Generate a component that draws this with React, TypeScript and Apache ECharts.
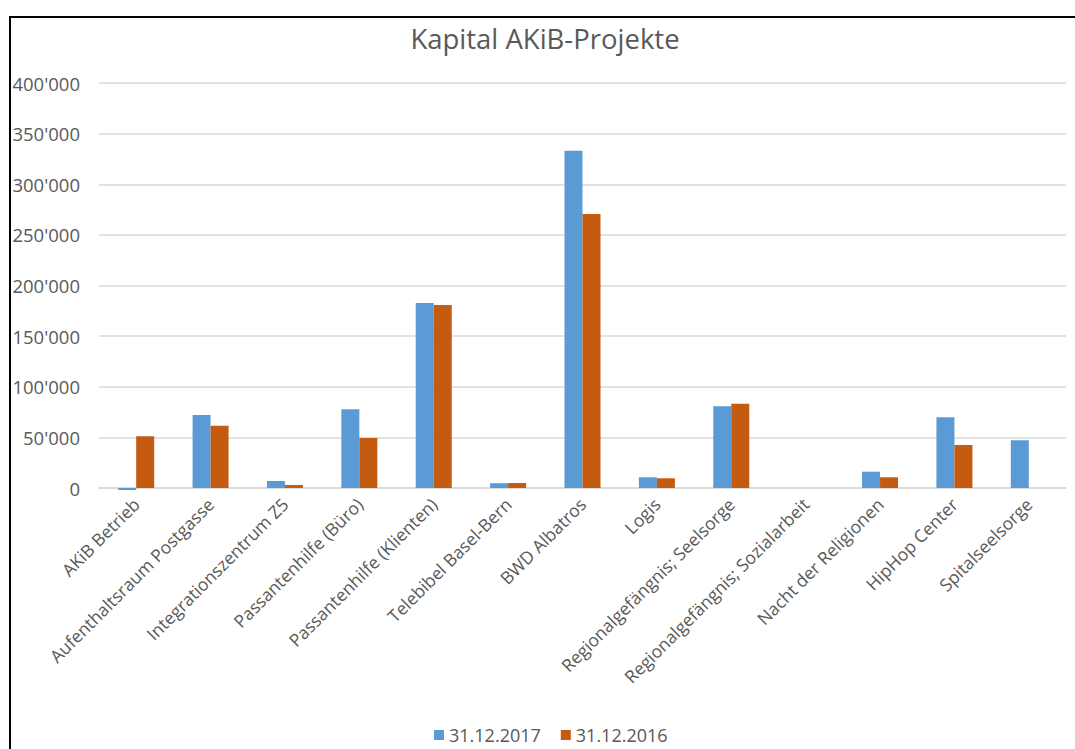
import React, { useEffect, useRef } from "react";
import * as echarts from "echarts";

const categories = [
  "AKiB Betrieb",
  "Aufenthaltsraum Postgasse",
  "Integrationszentrum Z5",
  "Passantenhilfe (Büro)",
  "Passantenhilfe (Klienten)",
  "Telebibel Basel-Bern",
  "BWD Albatros",
  "Logis",
  "Regionalgefängnis; Seelsorge",
  "Regionalgefängnis; Sozialarbeit",
  "Nacht der Religionen",
  "HipHop Center",
  "Spitalseelsorge",
];

const values2017 = [-2000, 72000, 6900, 77800, 182800, 4700, 333000, 10600, 80700, 0, 16100, 69900, 47100];
const values2016 = [51000, 61500, 3000, 49400, 180800, 5000, 270700, 9600, 83300, 0, 10600, 42500, null];

const seriesNames = ["31.12.2017", "31.12.2016"];
const yTicks = { min: 0, max: 400000, interval: 50000 };

const fmt = (v: number) => {
  const s = Math.round(v).toString();
  return s.replace(/\B(?=(\d{3})+(?!\d))/g, "'");
};

export default function App() {
  const ref = useRef<HTMLDivElement>(null);
  useEffect(() => {
    if (!ref.current) return;
    const chart = echarts.init(ref.current, undefined, { renderer: "svg" });
    const font = "'Open Sans', sans-serif";
    chart.setOption({
      animation: false,
      backgroundColor: "#ffffff",
      textStyle: { fontFamily: font },
      title: {
        text: "Kapital AKiB-Projekte",
        left: 540,
        top: 19,
        textAlign: "center",
        textStyle: { fontFamily: font, fontSize: 27.5, fontWeight: "normal", color: "#595959" },
      },
      graphic: [
        {
          type: "line",
          shape: { x1: 9, y1: 17, x2: 1075, y2: 17 },
          style: { stroke: "#000000", lineWidth: 2 },
        },
        {
          type: "line",
          shape: { x1: 10, y1: 16, x2: 10, y2: 749 },
          style: { stroke: "#000000", lineWidth: 2 },
        },
      ],
      legend: {
        data: seriesNames,
        left: 429,
        top: 721,
        itemWidth: 10,
        itemHeight: 10,
        itemGap: 20,
        icon: "rect",
        textStyle: { fontFamily: font, fontSize: 18, color: "#595959" },
      } as any,
      grid: { left: 99, right: 9, top: 83, bottom: 261, containLabel: false },
      xAxis: {
        type: "category",
        data: categories,
        axisLine: { show: true, lineStyle: { color: "#d9d9d9", width: 1.5 } },
        axisTick: { show: false },
        axisLabel: {
          rotate: 45,
          interval: 0,
          margin: 13,
          fontFamily: font,
          fontSize: 17.5,
          color: "#595959",
        },
      },
      yAxis: {
        type: "value",
        min: yTicks.min,
        max: yTicks.max,
        interval: yTicks.interval,
        axisLine: { show: false },
        axisTick: { show: false },
        splitLine: { lineStyle: { color: "#d9d9d9", width: 1.5 } },
        axisLabel: {
          formatter: (v: number) => fmt(v),
          margin: 19,
          fontFamily: font,
          fontSize: 18.5,
          color: "#595959",
        },
      },
      series: [
        {
          name: seriesNames[0],
          type: "bar",
          data: values2017,
          barWidth: 18,
          barGap: "0%",
          clip: false,
          itemStyle: { color: "#5B9BD5" },
        },
        {
          name: seriesNames[1],
          type: "bar",
          data: values2016,
          barWidth: 18,
          barGap: "0%",
          clip: false,
          itemStyle: { color: "#C55A11" },
        },
      ],
    });
    return () => chart.dispose();
  }, []);
  return (
    <div
      ref={ref}
      style={{ position: "absolute", left: 0, top: 0, width: 1075, height: 749 }}
    />
  );
}
